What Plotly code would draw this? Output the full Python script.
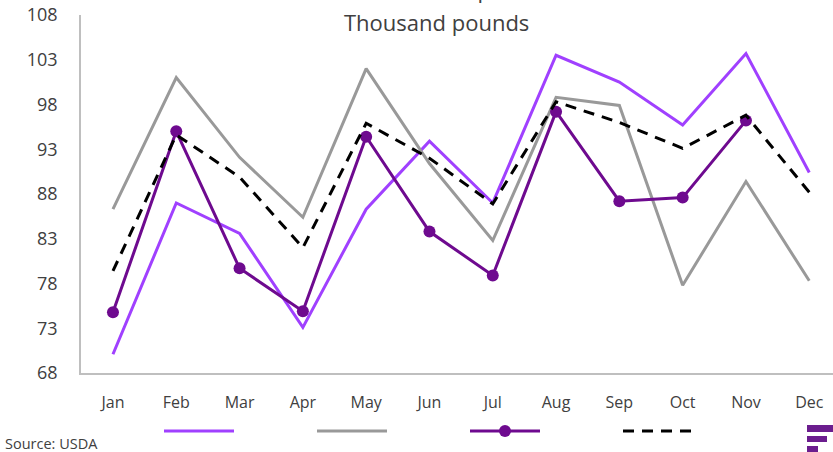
import plotly.graph_objects as go

months = ["Jan", "Feb", "Mar", "Apr", "May", "Jun", "Jul", "Aug", "Sep", "Oct", "Nov", "Dec"]
series_a = [70.1, 87.0, 83.6, 73.1, 86.3, 93.9, 87.0, 103.5, 100.5, 95.7, 103.7, 90.4]
series_b = [86.3, 101.0, 92.1, 85.4, 102.0, 91.4, 82.8, 98.8, 97.9, 77.8, 89.4, 78.3]
series_c = [74.8, 95.0, 79.7, 74.9, 94.4, 83.8, 78.9, 97.2, 87.2, 87.6, 96.2, None]
series_avg = [79.4, 94.6, 89.9, 82.0, 95.9, 92.0, 86.9, 98.3, 96.0, 93.1, 96.8, 88.2]
y_ticks = [68, 73, 78, 83, 88, 93, 98, 103, 108]

W, H = 833, 452
L, R, T, B = 81, 0, 15, 79

fig = go.Figure()
fig.add_trace(go.Scatter(x=months, y=series_a, mode="lines", name="",
                         line=dict(color="#A040FF", width=3)))
fig.add_trace(go.Scatter(x=months, y=series_b, mode="lines", name="",
                         line=dict(color="#999999", width=3)))
fig.add_trace(go.Scatter(x=months, y=series_c, mode="lines+markers", name="",
                         line=dict(color="#6E0A8F", width=3),
                         marker=dict(color="#6E0A8F", size=12)))
fig.add_trace(go.Scatter(x=months, y=series_avg, mode="lines", name="",
                         line=dict(color="#000000", width=3, dash="11px,8px")))

fig.update_layout(
    width=W, height=H,
    margin=dict(l=L, r=R, t=T, b=B, pad=0, autoexpand=False),
    paper_bgcolor="white", plot_bgcolor="white",
    font=dict(family="Open Sans", color="#404040"),
    showlegend=True,
    legend=dict(orientation="h", x=(159 - L) / (W - L - R), xanchor="left",
                y=-(431 - (H - B)) / (H - T - B), yanchor="middle",
                itemwidth=70, entrywidth=68, font=dict(size=13),
                bgcolor="rgba(0,0,0,0)"),
    xaxis=dict(type="category", range=[-0.505, 11.375], showgrid=False,
               showline=True, linecolor="#BFBFBF", linewidth=1.5,
               ticks="", tickfont=dict(size=16, color="#404040"),
               ticklabelstandoff=14),
    yaxis=dict(range=[68, 108], tickvals=y_ticks, showgrid=False, zeroline=False,
               showline=True, linecolor="#BFBFBF", linewidth=1.5,
               ticks="", tickfont=dict(size=18, color="#404040"),
               ticklabelstandoff=18),
)

fig.add_annotation(text="US frozen stocks of pork bellies", xref="paper", yref="paper",
                   x=(436 - L) / (W - L - R), y=(H - B - 6) / (H - T - B),
                   showarrow=False, font=dict(size=22, color="#404040"),
                   xanchor="center", yanchor="bottom")
fig.add_annotation(text="Thousand pounds", xref="paper", yref="paper",
                   x=(436 - L) / (W - L - R), y=(H - B - 22) / (H - T - B),
                   showarrow=False, font=dict(size=22, color="#404040"),
                   xanchor="center", yanchor="middle")
fig.add_annotation(text="Source: USDA", xref="paper", yref="paper",
                   x=-(L - 3) / (W - L - R), y=-(443 - (H - B)) / (H - T - B),
                   showarrow=False, font=dict(size=14.5, color="#404040"),
                   xanchor="left", yanchor="middle")

# logo bars
for (x0, x1, y0, y1) in [(807, 833, 425, 432), (807, 827, 436, 442), (807, 818, 446, 453)]:
    fig.add_shape(type="rect", xref="paper", yref="paper",
                  x0=(x0 - L) / (W - L - R), x1=(x1 - L) / (W - L - R),
                  y0=-(y1 - (H - B)) / (H - T - B), y1=-(y0 - (H - B)) / (H - T - B),
                  fillcolor="#6B1D8E", line=dict(width=0), layer="above")

fig.write_html("out.html", config={"displayModeBar": False},
               post_script="document.body.style.margin='0';document.body.style.overflow='hidden';")
